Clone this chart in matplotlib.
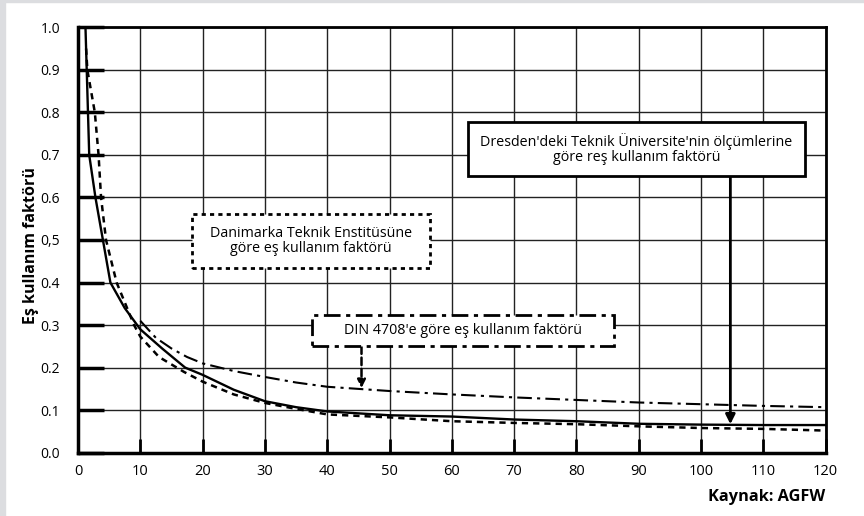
import matplotlib
matplotlib.use("Agg")
import matplotlib.pyplot as plt
from matplotlib.patches import Rectangle

plt.rcParams['font.family'] = ['Open Sans', 'DejaVu Sans']

# Dresden TU measurements (solid)
dres_x = [1.2, 1.8, 2.8, 4.0, 5.2, 7.5, 10, 13.5, 17.2, 20, 25, 30, 35, 40, 50, 60, 70, 80, 90, 100, 110, 120]
dres_y = [1.0, 0.70, 0.60, 0.50, 0.40, 0.34, 0.29, 0.245, 0.20, 0.183, 0.148, 0.121, 0.107, 0.097, 0.088, 0.085, 0.078, 0.074, 0.068, 0.066, 0.065, 0.065]

# Danish Technical Institute (dashed)
dan_x = [1.3, 1.5, 2.7, 3.3, 3.7, 4.5, 6.2, 9.0, 10, 13, 17, 20, 25, 30, 35, 40, 50, 60, 70, 80, 90, 100, 110, 120]
dan_y = [0.95, 0.90, 0.80, 0.70, 0.60, 0.50, 0.40, 0.30, 0.273, 0.225, 0.19, 0.167, 0.137, 0.117, 0.103, 0.090, 0.083, 0.074, 0.070, 0.067, 0.062, 0.058, 0.056, 0.052]

# DIN 4708 (dash-dot)
din_x = [10, 12.5, 15, 17.5, 20, 25, 30, 35, 40, 45, 50, 60, 70, 80, 90, 100, 110, 120]
din_y = [0.31, 0.27, 0.245, 0.225, 0.21, 0.192, 0.178, 0.165, 0.155, 0.150, 0.145, 0.137, 0.130, 0.124, 0.118, 0.114, 0.110, 0.107]

x_ticks = [0, 10, 20, 30, 40, 50, 60, 70, 80, 90, 100, 110, 120]
y_ticks = [0.0, 0.1, 0.2, 0.3, 0.4, 0.5, 0.6, 0.7, 0.8, 0.9, 1.0]
y_tick_labels = ['0.0', '0.1', '0.2', '0.3', '0.4', '0,5', '0.6', '0.7', '0.8', '0.9', '1.0']

fig = plt.figure(figsize=(8.64, 5.16), dpi=100)
fig.patch.set_facecolor('white')
fig.patches.append(Rectangle((0, 0), 5/864, 1, transform=fig.transFigure, color='#dcdde0', zorder=0))
fig.patches.append(Rectangle((0, 1-2/516), 1, 2/516, transform=fig.transFigure, color='#dcdde0', zorder=0))

ax = fig.add_axes([78/864, 1-452.7/516, (825.7-78)/864, (452.7-27.3)/516])
ax.set_xlim(0, 120)
ax.set_ylim(0, 1.0)

ax.set_xticks(x_ticks)
ax.set_xticklabels([str(v) for v in x_ticks], fontsize=10.5)
ax.set_yticks(y_ticks)
ax.set_yticklabels(y_tick_labels, fontsize=10)
ax.grid(True, color='#222222', linewidth=1.0, zorder=1)
ax.tick_params(axis='y', direction='in', length=19, width=2.5, pad=13, color='black')
ax.tick_params(axis='x', direction='in', length=10, width=2, pad=8, color='black')
for side, lw in [('left', 2.5), ('bottom', 2.5), ('top', 2.0), ('right', 2.0)]:
    ax.spines[side].set_linewidth(lw)
    ax.spines[side].set_color('black')

ax.plot(dres_x, dres_y, color='black', linewidth=1.7, zorder=3)
ax.plot(dan_x, dan_y, color='black', linewidth=1.8, linestyle=(0, (2.5, 2)), zorder=3)
ax.plot(din_x, din_y, color='black', linewidth=1.5, linestyle=(0, (7, 2.5, 1.5, 2.5)), zorder=3)

def box(x0, y0, x1, y1, ls, lw=1.8):
    r = Rectangle((x0, y0), x1 - x0, y1 - y0, facecolor='white', edgecolor='black',
                  linewidth=lw, linestyle=ls, zorder=5)
    ax.add_patch(r)

box(62.6, 0.651, 116.6, 0.777, '-', 2.0)
ax.text(89.6, 0.714, "Dresden'deki Teknik Üniversite'nin ölçümlerine\ngöre reş kullanım faktörü",
        ha='center', va='center', fontsize=10.3, linespacing=1.0, zorder=6)

box(18.3, 0.435, 56.5, 0.561, (0, (1.5, 1.5)), 2.0)
ax.text(37.4, 0.498, "Danimarka Teknik Enstitüsüne\ngöre eş kullanım faktörü",
        ha='center', va='center', fontsize=10.3, linespacing=1.0, zorder=6)

box(37.5, 0.25, 86.0, 0.324, (0, (6, 2, 1.5, 2)), 2.0)
ax.text(61.75, 0.287, "DIN 4708'e göre eş kullanım faktörü",
        ha='center', va='center', fontsize=10.3, zorder=6)

ax.annotate('', xy=(104.7, 0.067), xytext=(104.7, 0.651),
            arrowprops=dict(arrowstyle='-|>', color='black', lw=2.0, mutation_scale=14,
                            shrinkA=0, shrinkB=0), zorder=4)
ax.annotate('', xy=(45.5, 0.152), xytext=(45.5, 0.25),
            arrowprops=dict(arrowstyle='-|>', color='black', lw=1.8, mutation_scale=12,
                            linestyle=(0, (3, 1.5)), shrinkA=0, shrinkB=0), zorder=4)

ax.set_ylabel('Eş kullanım faktörü', fontsize=11.5, fontweight='bold')
ax.yaxis.set_label_coords(-0.052, 0.487)
fig.text(825.7/864, 1-497/516, 'Kaynak: AGFW', ha='right', va='center', fontsize=11.8, fontweight='bold')

fig.savefig('out.png', dpi=100)
